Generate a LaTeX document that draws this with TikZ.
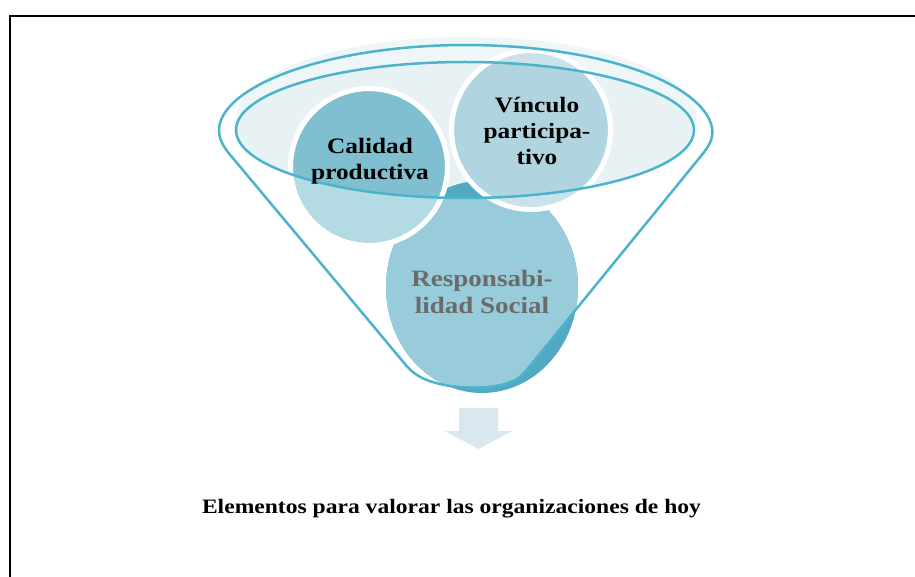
\documentclass[tikz,border=0pt]{standalone}
\usepackage{fontspec}
\setmainfont{Liberation Serif}[FakeStretch=1.15]
\definecolor{funnelline}{HTML}{4BB4CB}
\definecolor{innerfill}{HTML}{E8F2F5}
\definecolor{outerfill}{HTML}{EFF6F8}
\definecolor{caldark}{HTML}{7FBFD0}
\definecolor{callight}{HTML}{B4DAE3}
\definecolor{vincdark}{HTML}{B1D5E0}
\definecolor{vinclight}{HTML}{CAE3EA}
\definecolor{respmid}{HTML}{98CCDA}
\definecolor{respdark}{HTML}{51AAC1}
\definecolor{arrowfill}{HTML}{D9E8EF}
\definecolor{resptext}{HTML}{6B6B6B}
\begin{document}
\begin{tikzpicture}[x=1pt,y=-1pt,
  funnelstroke/.style={draw=funnelline,line width=2.5pt,line join=round},
  whiteborder/.style={draw=white,line width=5pt},
  circlelbl/.style={align=center,inner sep=0pt,font=\bfseries\fontsize{22}{26}\selectfont},
  resplbl/.style={align=center,inner sep=0pt,text=resptext,font=\bfseries\fontsize{23.5}{27}\selectfont},
  titlelbl/.style={inner sep=0pt,font=\bfseries\fontsize{20.5}{24}\selectfont}]
\useasboundingbox (0,0) rectangle (915,577);
\fill[white] (0,0) rectangle (915,577);
% frame
\draw[line width=2pt] (10,578) -- (10,16) -- (916,16);
% pale fills of the funnel mouth
\fill[outerfill] (467,117) ellipse[x radius=230,y radius=80];
\fill[innerfill] (465,130) ellipse[x radius=229,y radius=68];
% Responsabilidad Social
\fill[respdark] (482,287) ellipse[x radius=96,y radius=106];
\begin{scope}
  \clip (224.7,148.3) arc[start angle=170,end angle=370,x radius=245,y radius=88]
     -- (525,372) .. controls (505,392) and (440,392) .. (410,370) -- cycle;
  \fill[respmid] (482,287) ellipse[x radius=96,y radius=106];
\end{scope}
\begin{scope}
  \clip (465,130) ellipse[x radius=229,y radius=68];
  \fill[respdark] (482,287) ellipse[x radius=96,y radius=106];
\end{scope}
% Calidad productiva
\fill[callight] (369,167) circle[radius=76];
\begin{scope}
  \clip (465,130) ellipse[x radius=229,y radius=68];
  \fill[caldark] (369,167) circle[radius=76];
\end{scope}
\draw[whiteborder] (369,167) circle[radius=78.5];
% Vinculo participativo
\fill[vinclight] (531,130) circle[radius=77];
\begin{scope}
  \clip (465,130) ellipse[x radius=229,y radius=68];
  \fill[vincdark] (531,130) circle[radius=77];
\end{scope}
\draw[whiteborder] (531,130) circle[radius=79.5];
% funnel outlines
\draw[funnelstroke] (465,130) ellipse[x radius=229,y radius=68];
\draw[funnelstroke,rounded corners=6pt] (224.7,148.3) arc[start angle=170,end angle=370,x radius=245,y radius=88]
     -- (525,372) .. controls (505,392) and (440,392) .. (410,370) -- cycle;
% labels
\node[circlelbl] (cal) at (370,161) {Calidad\\productiva};
\node[circlelbl] (vinc) at (537,130.5) {Vínculo\\participa-\\tivo};
\node[resplbl] (resp) at (482,292) {Responsabi-\\lidad Social};
% down arrow
\fill[arrowfill] (459,408) -- (498,408) -- (498,431) -- (512,431) -- (478.5,449) -- (445,431) -- (459,431) -- cycle;
% title
\node[titlelbl,anchor=base] (title) at (451.5,513) {Elementos para valorar las organizaciones de hoy};
\end{tikzpicture}
\end{document}
